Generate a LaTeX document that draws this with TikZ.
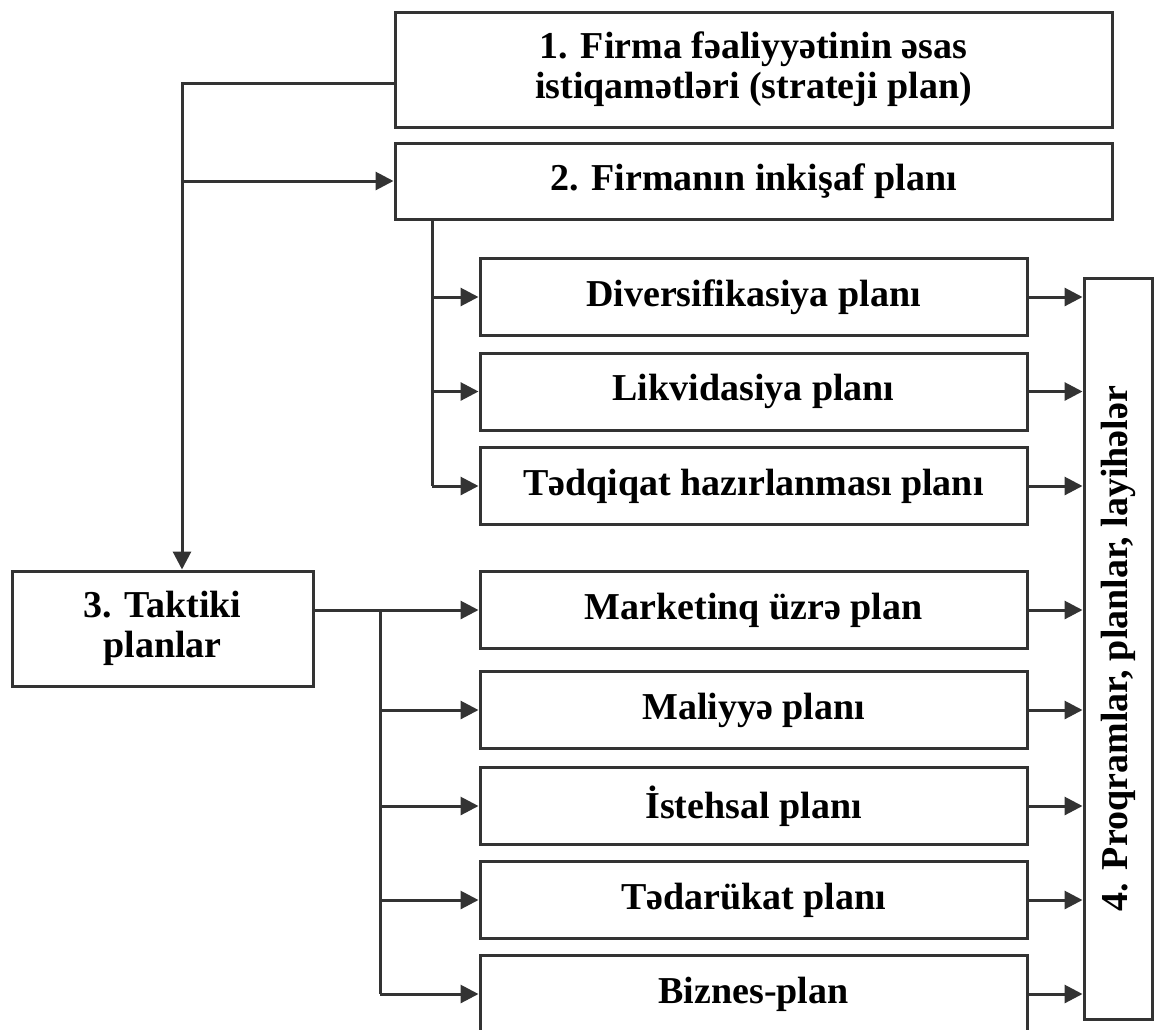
\documentclass[tikz,border=0pt]{standalone}
\usepackage{fontspec}
\setmainfont{Liberation Serif}
\usetikzlibrary{
	calc,
	positioning,
	arrows.meta
}
\definecolor{linegray}{HTML}{333333}

\begin{document}
\begin{tikzpicture}[
				x=0.5pt, y=-0.5pt,
				box/.style={draw=linegray, line width=1.5pt, fill=white, align=center, inner sep=0pt, font=\bfseries\fontsize{19}{20}\selectfont},
				plan/.style={box, minimum width=273.5pt, minimum height=38.5pt},
				link/.style={draw=linegray, line width=1.5pt},
				arr/.style={link, -{Triangle[length=9pt, width=9pt]}}
			]
				\useasboundingbox (0,0) rectangle (1155,1029);

				% main boxes
				\node[box, minimum width=358.5pt, minimum height=57.5pt] (b1) at (753.5, 69.5) {1. Firma fəaliyyətinin əsas\\ istiqamətləri (strateji plan)};
				\node[box, minimum width=358.5pt, minimum height=38pt]   (b2) at (753.5,  181) {2. Firmanın inkişaf planı};
				\node[box, minimum width=150.5pt, minimum height=57.5pt] (b3) at (162.5,628.5) {3. Taktiki\\ planlar};
				\node[box, minimum width=34pt,    minimum height=370.5pt] (b4) at (1118, 648.5) {\rotatebox{90}{4. Proqramlar, planlar, layihələr}};

				% plans
				\node[plan] (div) at (753.5,  297) {Diversifikasiya planı};
				\node[plan] (lik) at (753.5,391.5) {Likvidasiya planı};
				\node[plan] (tad) at (753.5,  486) {Tədqiqat hazırlanması planı};
				\node[plan] (mar) at (753.5,  610) {Marketinq üzrə plan};
				\node[plan] (mal) at (753.5,  710) {Maliyyə planı};
				\node[plan] (ist) at (753.5,  806) {İstehsal planı};
				\node[plan] (tdr) at (753.5,  900) {Tədarükat planı};
				\node[plan] (biz) at (753.5,  994) {Biznes-plan};

				% trunks
				\coordinate (t1) at (182, 83);
				\coordinate (t2) at (432,  0);
				\coordinate (t3) at (380,  0);

				% from 1
				\draw[arr] (t1 -| b1.west) -- (t1) -- (t1 |- b3.north);
				\draw[arr] (t1 |- b2.west) -- (b2.west);

				% from 2
				\draw[link] (t2 |- b2.south) -- (t2 |- tad.west);
				\foreach \p in {div, lik, tad}
					\draw[arr] (t2 |- \p.west) -- (\p.west);

				% from 3
				\draw[link] (mar.west -| b3.east) -- (t3 |- mar.west) -- (t3 |- biz.west);
				\foreach \p in {mar, mal, ist, tdr, biz}
					\draw[arr] (t3 |- \p.west) -- (\p.west);

				% to 4
				\foreach \p in {div, lik, tad, mar, mal, ist, tdr, biz}
					\draw[arr] (\p.east) -- (\p.east -| b4.west);
			\end{tikzpicture}
\end{document}
